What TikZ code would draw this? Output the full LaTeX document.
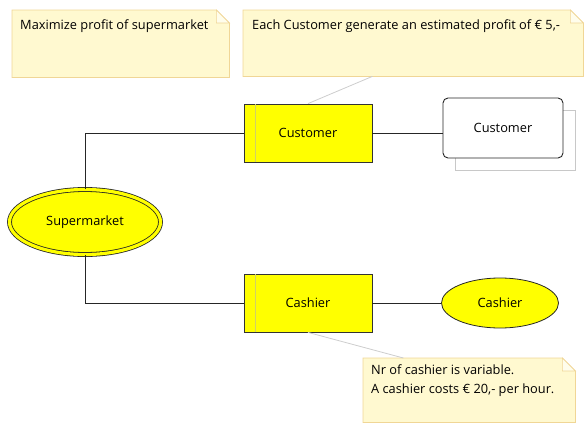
\documentclass[tikz,border=0pt]{standalone}
\usepackage{fontspec}
\setmainfont{Open Sans}
\usetikzlibrary{shapes.geometric,shapes.misc,calc}
\definecolor{notefill}{RGB}{255,249,208}
\definecolor{noteline}{RGB}{240,214,150}
\definecolor{entityfill}{RGB}{255,255,0}
\definecolor{linkgray}{RGB}{205,205,205}
\definecolor{shadowgray}{RGB}{200,200,200}
\begin{document}
\begin{tikzpicture}[x=1pt,y=-1pt,
  font=\fontsize{12.8}{19}\selectfont,
  note/.style={draw=none, anchor=north west, inner sep=0pt},
  notetext/.style={anchor=north west, inner sep=0pt, align=left},
  entity/.style={draw=black!80, fill=entityfill, line width=0.8pt,
    minimum width=128pt, minimum height=58pt, inner sep=0pt},
  connector/.style={draw=black!85, line width=0.8pt},
  notelink/.style={draw=linkgray, line width=0.8pt}]
\useasboundingbox (0,0) rectangle (584,423);

% dog-eared note drawn from the corners of a placeholder node
\newcommand{\dognote}[1]{%
  \fill[notefill] (#1.north west) -- ($(#1.north east)+(-13,0)$) -- ($(#1.north east)+(0,13)$) -- (#1.south east) -- (#1.south west) -- cycle;
  \draw[noteline, line width=0.8pt] (#1.north west) -- ($(#1.north east)+(-13,0)$) -- ($(#1.north east)+(0,13)$) -- (#1.south east) -- (#1.south west) -- cycle;
  \filldraw[fill=white!60!notefill, draw=noteline, line width=0.6pt] ($(#1.north east)+(-13,0)$) -- ($(#1.north east)+(-13,13)$) -- ($(#1.north east)+(0,13)$) -- cycle;
}

% notes
\node[note, minimum width=217pt, minimum height=67pt] (note1) at (12,10) {};
\node[note, minimum width=340pt, minimum height=66pt] (note2) at (243,10) {};
\node[note, minimum width=212pt, minimum height=64pt] (note3) at (363,358) {};
\dognote{note1}
\dognote{note2}
\dognote{note3}
\node[notetext] (t1) at (20,20) {Maximize profit of supermarket};
\node[notetext] (t2) at (252,20) {Each Customer generate an estimated profit of € 5,-};
\node[notetext] (t3) at (371,365) {Nr of cashier is variable.\\A cashier costs € 20,- per hour.};

% entities
\node[entity] (custbox) at (308,133) {Customer};
\node[entity] (cashbox) at (308,303) {Cashier};
\draw[entityfill!70!black!60, line width=0.5pt] ($(custbox.north west)+(12,0.5)$) -- ($(custbox.south west)+(12,-0.5)$);
\draw[entityfill!70!black!60, line width=0.5pt] ($(cashbox.north west)+(12,0.5)$) -- ($(cashbox.south west)+(12,-0.5)$);

% supermarket with double border
\node[ellipse, draw=black!85, line width=0.8pt, double=entityfill, double distance=3.2pt,
  fill=entityfill, minimum width=151pt, minimum height=65pt, inner sep=0pt] (super) at (85,222) {Supermarket};

% cashier ellipse
\node[ellipse, draw=black!85, line width=0.8pt, fill=entityfill,
  minimum width=117pt, minimum height=50pt, inner sep=0pt] (cashell) at (500,303) {Cashier};

% customer with stacked shadow shape
\node[chamfered rectangle, chamfered rectangle xsep=8pt, chamfered rectangle ysep=8pt,
  draw=shadowgray, fill=white, line width=0.7pt, minimum width=120pt, minimum height=60pt,
  inner sep=0pt] (custshadow) at (515,140) {};
\node[draw=black!85, fill=white, rounded corners=5pt, line width=0.9pt,
  minimum width=120pt, minimum height=60pt, inner sep=0pt] (custnode) at (503,128) {Customer};

% connectors
\draw[connector] (super.north) |- (custbox.west);
\draw[connector] (super.south) |- (cashbox.west);
\draw[connector] (custbox.east) -- (custbox.east -| custnode.west);
\draw[connector] (cashbox.east) -- (cashell.west);

% note links
\draw[notelink] ($(note2.south west)!0.38!(note2.south east)$) -- (custbox.north);
\draw[notelink] (cashbox.south) -- ($(note3.north west)!0.19!(note3.north east)$);
\end{tikzpicture}
\end{document}
